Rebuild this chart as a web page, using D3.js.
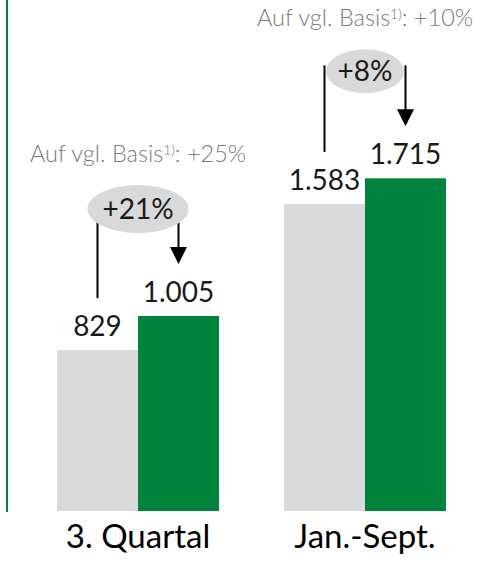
<!DOCTYPE html>
<html><head><meta charset="utf-8">
<script src="https://cdn.jsdelivr.net/npm/d3@7"></script>
<style>body{margin:0;background:#fff}svg{display:block}</style>
</head><body>
<script>
const categories = ["3. Quartal", "Jan.-Sept."];
const prevValues = [829, 1583];
const currValues = [1005, 1715];
const prevLabels = ["829", "1.583"];
const currLabels = ["1.005", "1.715"];
const changeLabels = ["+21%", "+8%"];
const basisLabels = ["+25%", "+10%"];
const series = ["prev", "curr"];

const W = 482, H = 562;
const font = "Lato, 'Open Sans', sans-serif";
const GREEN = "#00843d", GRAY = "#d9d9d9";

const svg = d3.select("body").append("svg").attr("width", W).attr("height", H);

const x0 = d3.scaleBand().domain(categories).range([57, 446]).paddingInner(0.2863).paddingOuter(0);
const x1 = d3.scaleBand().domain(series).range([0, x0.bandwidth()]);
const y = d3.scaleLinear().domain([0, 2634]).range([511, 0]);

// left green rule
svg.append("line").attr("x1", 7).attr("x2", 7).attr("y1", 0).attr("y2", 512)
  .attr("stroke", GREEN).attr("stroke-width", 2);

const data = categories.map((c, i) => ({
  c, prev: prevValues[i], curr: currValues[i],
  prevLabel: prevLabels[i], currLabel: currLabels[i],
  change: changeLabels[i], basis: basisLabels[i]
}));

const g = svg.selectAll("g.cat").data(data).join("g").attr("class", "cat")
  .attr("transform", d => `translate(${x0(d.c)},0)`);

g.append("rect").attr("x", x1("prev")).attr("width", x1.bandwidth())
  .attr("y", d => y(d.prev)).attr("height", d => y(0) - y(d.prev)).attr("fill", GRAY);
g.append("rect").attr("x", x1("curr")).attr("width", x1.bandwidth())
  .attr("y", d => y(d.curr)).attr("height", d => y(0) - y(d.curr)).attr("fill", GREEN);

const vfs = 28;
g.append("text").attr("x", x1("prev") + x1.bandwidth() / 2).attr("y", d => y(d.prev) - 14)
  .attr("text-anchor", "middle").attr("font-family", font).attr("font-size", vfs).attr("fill", "#1a1a1a")
  .text(d => d.prevLabel);
g.append("text").attr("x", x1("curr") + x1.bandwidth() / 2).attr("y", d => y(d.curr) - 14)
  .attr("text-anchor", "middle").attr("font-family", font).attr("font-size", vfs).attr("fill", "#1a1a1a")
  .text(d => d.currLabel);

// category labels
g.append("text").attr("x", x0.bandwidth() / 2).attr("y", 548)
  .attr("text-anchor", "middle").attr("font-family", font).attr("font-size", 33).attr("fill", "#000")
  .text(d => d.c);

// connectors
const cy = d => y(d.curr) - 107;
const ry = d => d.change.length > 3 ? 24 : 22;
const rx = d => d.change.length > 3 ? 50.5 : 39;
const pc = x1("prev") + x1.bandwidth() / 2;
const cc = x1("curr") + x1.bandwidth() / 2;
g.append("line").attr("x1", pc).attr("x2", pc).attr("y1", d => cy(d) - 6).attr("y2", d => y(d.prev) - 52)
  .attr("stroke", "#000").attr("stroke-width", 2);
g.append("line").attr("x1", cc).attr("x2", cc).attr("y1", d => cy(d) - 6).attr("y2", d => y(d.curr) - 66)
  .attr("stroke", "#000").attr("stroke-width", 2);
g.append("path").attr("d", d => {
  const t = y(d.curr) - 52;
  return `M${cc - 8.5},${t - 17}L${cc + 8.5},${t - 17}L${cc},${t}Z`;
}).attr("fill", "#000");

// ellipses
g.append("ellipse").attr("cx", x0.bandwidth() / 2).attr("cy", cy)
  .attr("rx", rx).attr("ry", ry).attr("fill", GRAY);
g.append("text").attr("x", x0.bandwidth() / 2).attr("y", d => cy(d) + 10)
  .attr("text-anchor", "middle").attr("font-family", font).attr("font-size", vfs).attr("fill", "#1a1a1a")
  .text(d => d.change);

// basis annotations
const bt = g.append("text").attr("x", x0.bandwidth() / 2).attr("y", d => cy(d) - ry(d) - 23)
  .attr("text-anchor", "middle").attr("font-family", font).attr("font-weight", 300).attr("font-size", 23.5).attr("fill", "#7a7a7a");
bt.append("tspan").text("Auf vgl. Basis");
bt.append("tspan").attr("font-size", 14).attr("dy", -7).text("1)");
bt.append("tspan").attr("dy", 7).text(d => ": " + d.basis);
</script>
</body></html>
